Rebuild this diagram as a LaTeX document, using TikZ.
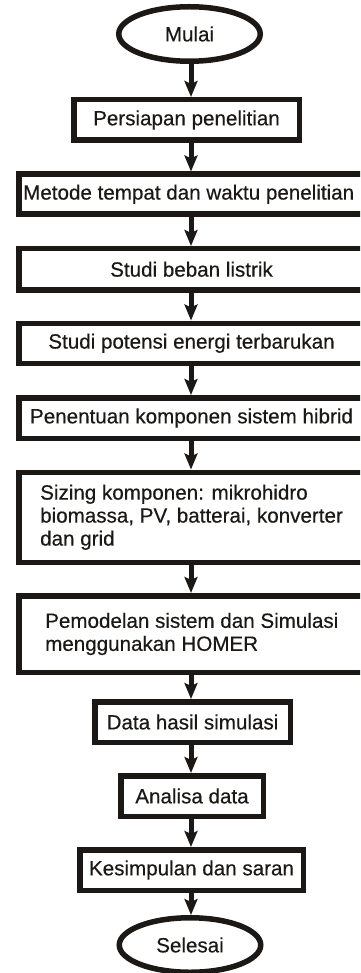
\documentclass[tikz,border=0pt]{standalone}
\usepackage{fontspec}
\setmainfont[FakeBold=0.4]{Liberation Sans}
\usetikzlibrary{arrows.meta,shapes.geometric}
\definecolor{ink}{RGB}{28,24,22}
\tikzset{
  stepbox/.style={draw=ink, line width=5.5pt, rectangle, inner sep=0pt, text=ink},
  termbox/.style={draw=ink, line width=5.5pt, ellipse, inner sep=0pt, text=ink},
  txt/.style={inner sep=0pt, text=ink, align=left},
  arr/.style={draw=ink, line width=5pt, -{Stealth[length=16pt,width=13pt,inset=3pt]}}
}
\begin{document}
\begin{tikzpicture}[x=1pt,y=-1pt,font=\fontsize{20.6}{23}\selectfont]
\useasboundingbox (0,0) rectangle (360,973);
\clip (0,0) rectangle (360,973);
\coordinate (ax) at (191,0);
% terminals and boxes
\node[termbox, minimum width=141.5pt, minimum height=54.5pt] (start) at (189.5,34) {Mulai};
\node[stepbox, minimum width=225.5pt, minimum height=40.5pt] (b1) at (186.5,120) {Persiapan penelitian};
\node[stepbox, minimum width=348.5pt, minimum height=40pt] (b2) at (193,194.25) {};
\node[txt, anchor=west] (t2) at (23,194.25) {Metode tempat dan waktu penelitian};
\node[stepbox, minimum width=348.5pt, minimum height=41pt] (b3) at (193,269.25) {};
\node[txt] (t3) at (191.5,269.25) {Studi beban listrik};
\node[stepbox, minimum width=348.5pt, minimum height=40pt] (b4) at (193,343.25) {};
\node[txt] (t4) at (191.5,343.25) {Studi potensi energi terbarukan};
\node[stepbox, minimum width=348.5pt, minimum height=40.5pt] (b5) at (193,418) {};
\node[txt] (t5) at (191.5,418) {Penentuan komponen sistem hibrid};
\node[stepbox, minimum width=348.5pt, minimum height=90pt] (b6) at (193,517.25) {};
\node[txt, anchor=west] (t6) at (40,517.25) {Sizing komponen: mikrohidro\\biomassa, PV, batterai, konverter\\dan grid};
\node[stepbox, minimum width=348.5pt, minimum height=76.5pt] (b7) at (193,634) {};
\node[txt, anchor=west] (t7) at (45,634) {Pemodelan sistem dan Simulasi\\menggunakan HOMER};
\node[stepbox, minimum width=195.5pt, minimum height=40.5pt] (b8) at (192.5,722) {Data hasil simulasi};
\node[stepbox, minimum width=142.5pt, minimum height=40.5pt] (b9) at (192,796) {Analisa data};
\node[stepbox, minimum width=223.5pt, minimum height=40.5pt] (b10) at (191.5,870) {Kesimpulan dan saran};
\node[termbox, minimum width=141.5pt, minimum height=54.5pt] (stop) at (190,945) {Selesai};
% connectors
\foreach \a/\b in {start/b1,b1/b2,b2/b3,b3/b4,b4/b5,b5/b6,b6/b7,b7/b8,b8/b9,b9/b10,b10/stop}{
  \draw[arr] (\a.south -| ax) -- (\b.north -| ax);
}
\end{tikzpicture}
\end{document}
